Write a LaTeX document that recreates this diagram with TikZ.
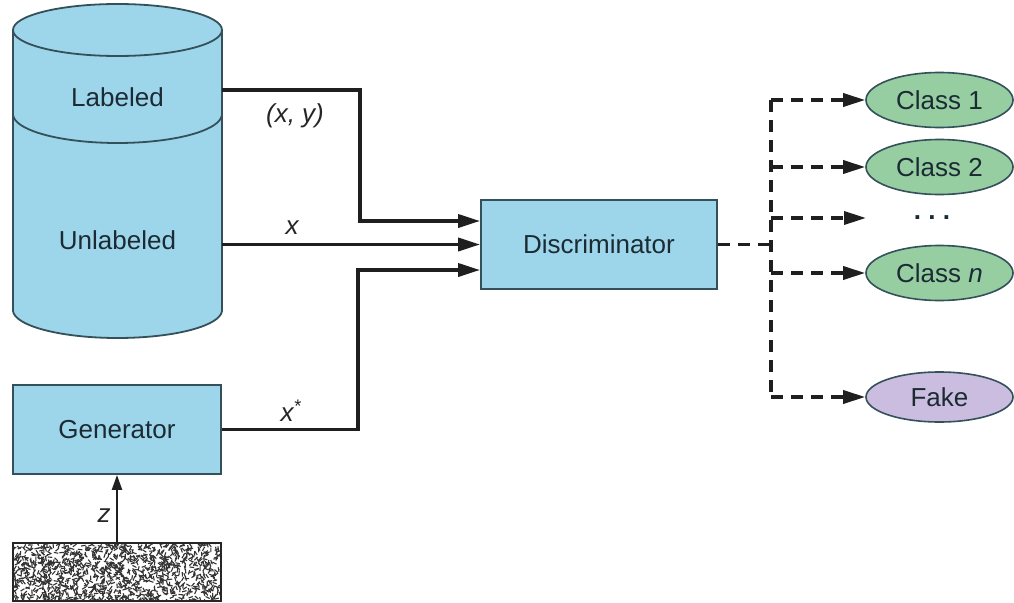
\documentclass[tikz,border=0pt]{standalone}
\usepackage{fontspec}
\setmainfont{Liberation Sans}
\usetikzlibrary{arrows.meta,shapes.geometric}
\definecolor{boxblue}{HTML}{9DD5EA}
\definecolor{clsgreen}{HTML}{96CEA2}
\definecolor{fakepurple}{HTML}{CBBDE0}
\definecolor{edgecol}{HTML}{34505A}
\definecolor{txtcol}{HTML}{1C2B33}
\begin{document}
\begin{tikzpicture}[x=1pt,y=-1pt,
  lbl/.style={font=\fontsize{26}{30}\selectfont, text=txtcol},
  ilbl/.style={font=\fontsize{26}{30}\selectfont\itshape, text=black!85},
  box/.style={draw=edgecol, line width=1.8pt, fill=boxblue, inner sep=0pt, lbl},
  cls/.style={ellipse, draw=edgecol, line width=1.6pt, fill=clsgreen, minimum width=147pt, minimum height=55pt, inner sep=0pt, lbl},
  tip/.style={-{Triangle[length=22pt,width=13pt]}},
  flow/.style={line width=3.5pt, draw=black!88, tip},
  dflow/.style={line width=3.5pt, dash pattern=on 12pt off 8pt, draw=black!88},
  cylline/.style={draw=edgecol, line width=1.8pt}]
\fill[white] (0,0) rectangle (1014,602);
\useasboundingbox (0,0) rectangle (1014,602);

% cylinder
\fill[boxblue] (13,30) rectangle (222,310);
\fill[boxblue] (117.5,310) ellipse [x radius=104.5, y radius=28];
\draw[cylline] (13,30) -- (13,310);
\draw[cylline] (222,30) -- (222,310);
\draw[cylline] plot[domain=0:180, samples=60] ({117.5+104.5*cos(\x)},{310+28*sin(\x)});
\draw[cylline] plot[domain=0:180, samples=60] ({117.5+104.5*cos(\x)},{114+29*sin(\x)});
\filldraw[cylline, fill=boxblue] (117.5,30) ellipse [x radius=104.5, y radius=26];
\node[lbl] (lab) at (117.5,97) {Labeled};
\node[lbl] (unlab) at (117.5,240) {Unlabeled};
\coordinate (cylR1) at (222,90);
\coordinate (cylR2) at (222,244.5);

% boxes
\node[box, minimum width=236pt, minimum height=89pt] (disc) at (599,244.5) {Discriminator};
\node[box, minimum width=208pt, minimum height=89pt] (gen) at (117,429.5) {Generator};
\node[minimum width=208pt, minimum height=58pt, inner sep=0pt] (noise) at (117,572) {};
\begin{scope}
  \clip (noise.south west) rectangle (noise.north east);
  \pgfmathsetseed{7}
  \foreach \i in {1,...,1300}{
    \pgfmathsetmacro\px{13+208*rnd}
    \pgfmathsetmacro\py{543+60*rnd}
    \pgfmathsetmacro\pa{360*rnd}
    \draw[line width=1.1pt, black!80] (\px,\py) -- ++(\pa:4.5);
  }
\end{scope}
\draw[draw=black!85, line width=1.8pt] (noise.south west) rectangle (noise.north east);

% inputs
\coordinate (in1) at ([yshift=23.5pt]disc.west);
\coordinate (in2) at (disc.west);
\coordinate (in3) at ([yshift=-25.5pt]disc.west);
\coordinate (k1) at (360,221);
\coordinate (k3) at (358,270);
\draw[flow] (cylR1) -| (k1) -- (in1);
\draw[flow] (cylR2) -- (in2);
\draw[flow] (gen.east) -| (k3) -- (in3);
\node[ilbl] (lxy) at (295,116) {(x, y)};
\node[ilbl] (lx) at (292,228) {x};
\node[ilbl] (lxs) at (291,411) {x\textsuperscript{*}};
\draw[line width=2.2pt, draw=black!88, -{Triangle[length=15pt,width=10pt]}] (noise.north) -- (gen.south);
\node[ilbl] (lz) at (104,516) {z};

% outputs
\node[cls] (c1) at (939.5,100) {Class 1};
\node[cls] (c2) at (939.5,167) {Class 2};
\node[lbl, font=\fontsize{26}{30}\selectfont\bfseries] (dots) at (932,218) {.~.~.};
\coordinate (dend) at (866,218);
\node[cls] (cn) at (939.5,273) {Class \textit{n}};
\node[cls, fill=fakepurple, minimum height=50pt] (fake) at (939.5,397) {Fake};

\coordinate (j) at (771,244.5);
\coordinate (v1) at (771,100);
\coordinate (v2) at (771,167);
\coordinate (v3) at (771,218);
\coordinate (v4) at (771,273);
\coordinate (v5) at (771,397);
\draw[dflow] (disc.east) -- (j);
\draw[dflow] (v1) -- (v5);
\draw[dflow, tip] (v1) -- (c1.west);
\draw[dflow, tip] (v2) -- (c2.west);
\draw[dflow, tip] (v3) -- (dend);
\draw[dflow, tip] (v4) -- (cn.west);
\draw[dflow, tip] (v5) -- (fake.west);
\end{tikzpicture}
\end{document}
